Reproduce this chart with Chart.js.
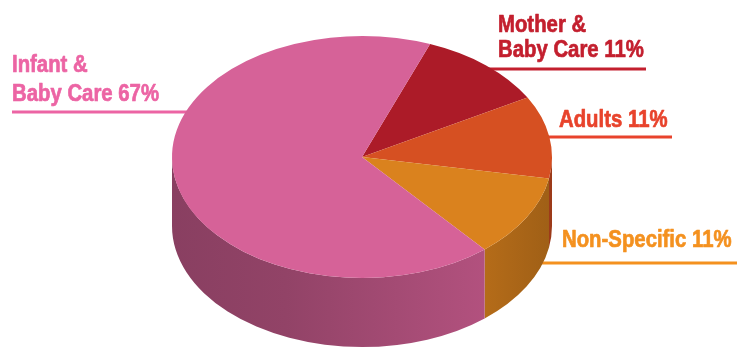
<!DOCTYPE html>
<html>
<head>
<meta charset="utf-8">
<script src="https://cdn.jsdelivr.net/npm/chart.js@4/dist/chart.umd.min.js"></script>
<style>
  html, body { margin: 0; padding: 0; background: #fff; }
  #wrap { width: 738px; height: 349px; position: relative; }
</style>
</head>
<body>
<div id="wrap"><canvas id="pieCanvas"></canvas></div>
<script>
// segments, clockwise from the top
const segments = [["Mother &", "Baby Care"], ["Adults"], ["Non-Specific"], ["Infant &", "Baby Care"]];
const shares = [11, 11, 11, 67];
const topColors = ["#ac1b28", "#d65022", "#da821e", "#d66298"];
const textColors = ["#c31f2e", "#e8432c", "#f4911f", "#ec64a4"];

// where each caption sits: text x, first baseline, line gap, underline y and its span
const captionPos = [
  { x: 498, y: 32, gap: 25, lineY: 69, x1: 470, x2: 646 },
  { x: 559, y: 127, gap: 25, lineY: 137, x1: 520, x2: 672 },
  { x: 562, y: 247, gap: 25, lineY: 263, x1: 520, x2: 737 },
  { x: 12, y: 72, gap: 29, lineY: 112, x1: 12, x2: 220 },
];

// ellipse of the top face and thickness of the disc
const CX = 362, CY = 157, RX = 190, RY = 121, DEPTH = 69;

function shade(hex, f) {
  const n = parseInt(hex.slice(1), 16);
  const r = Math.round(((n >> 16) & 255) * f);
  const g = Math.round(((n >> 8) & 255) * f);
  const b = Math.round((n & 255) * f);
  return `rgb(${r},${g},${b})`;
}

const pie3d = {
  id: "pie3d",
  beforeDraw(chart) {
    // captions and underlines sit behind the disc
    const ctx = chart.ctx;
    ctx.save();
    ctx.font = "bold 24px 'Liberation Sans', Arial, sans-serif";
    ctx.textBaseline = "alphabetic";
    ctx.lineJoin = "round";
    // squeeze the bold face into a condensed look
    const squeeze = 147 / ctx.measureText("Baby Care 67%").width;
    segments.forEach((lines, i) => {
      const p = captionPos[i];
      ctx.fillStyle = textColors[i];
      ctx.strokeStyle = textColors[i];
      lines.forEach((ln, j) => {
        const txt = j === lines.length - 1 ? ln + " " + shares[i] + "%" : ln;
        ctx.save();
        ctx.translate(p.x, p.y + j * p.gap);
        ctx.scale(squeeze, 1);
        ctx.lineWidth = 0.7;
        ctx.fillText(txt, 0, 0);
        ctx.strokeText(txt, 0, 0);
        ctx.restore();
      });
      ctx.fillRect(p.x1, p.lineY - 1.5, p.x2 - p.x1, 3);
    });
    ctx.restore();
  },
  beforeDatasetsDraw(chart) {
    const ctx = chart.ctx;
    const arcs = chart.getDatasetMeta(0).data;

    // side walls, only the front half (0..PI) is visible
    arcs.forEach((arc, i) => {
      for (let k = -1; k <= 1; k++) {
        const a1 = Math.max(arc.startAngle + k * 2 * Math.PI, 0);
        const a2 = Math.min(arc.endAngle + k * 2 * Math.PI, Math.PI);
        if (a2 <= a1) continue;
        const grad = ctx.createLinearGradient(CX - RX, 0, CX + RX, 0);
        grad.addColorStop(0, shade(topColors[i], 0.64));
        grad.addColorStop(0.3, shade(topColors[i], 0.68));
        grad.addColorStop(0.82, shade(topColors[i], 0.83));
        grad.addColorStop(1, shade(topColors[i], 0.73));
        ctx.beginPath();
        ctx.ellipse(CX, CY, RX, RY, 0, a1, a2, false);
        ctx.lineTo(CX + RX * Math.cos(a2), CY + DEPTH + RY * Math.sin(a2));
        ctx.ellipse(CX, CY + DEPTH, RX, RY, 0, a2, a1, true);
        ctx.closePath();
        ctx.fillStyle = grad;
        ctx.fill();
      }
    });

    // top faces, the library's arcs squeezed onto the ellipse
    arcs.forEach((arc) => {
      ctx.save();
      ctx.translate(CX, CY);
      ctx.scale(RX / arc.outerRadius, RY / arc.outerRadius);
      ctx.translate(-arc.x, -arc.y);
      arc.draw(ctx);
      ctx.restore();
    });
    return false;
  },
};

new Chart(document.getElementById("pieCanvas"), {
  type: "pie",
  data: {
    labels: segments.map((s) => s.join(" ")),
    datasets: [{
      data: shares,
      backgroundColor: topColors,
      borderWidth: 0,
    }],
  },
  options: {
    responsive: true,
    maintainAspectRatio: false,
    animation: false,
    rotation: 21,
    plugins: {
      legend: { display: false },
      tooltip: { enabled: false },
    },
  },
  plugins: [pie3d],
});
</script>
</body>
</html>
